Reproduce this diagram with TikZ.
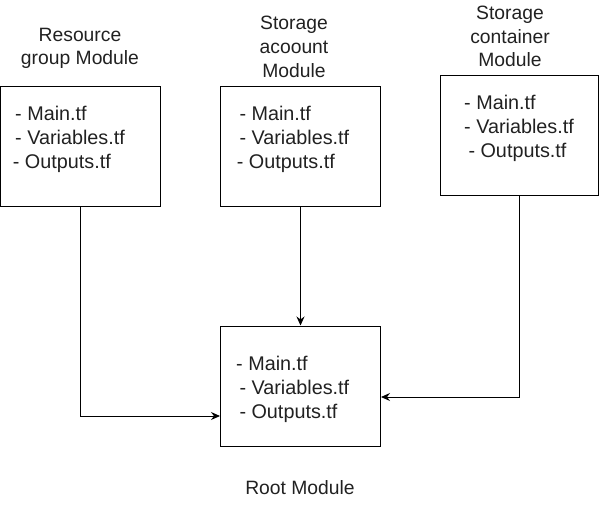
\documentclass[tikz,border=0pt]{standalone}
\usepackage{fontspec}
\setmainfont{Liberation Sans}
\usetikzlibrary{arrows.meta,calc}
\begin{document}
\begin{tikzpicture}[x=1pt,y=-1pt,
  box/.style={draw,line width=1pt,rectangle,inner sep=0pt,minimum width=160pt,minimum height=119pt},
  txt/.style={inner sep=0pt,anchor=base west,text=black!87,font=\fontsize{19.8}{23}\selectfont},
  lbl/.style={inner sep=0pt,anchor=base,text=black!87,font=\fontsize{19.3}{23}\selectfont},
  conn/.style={draw,line width=1pt,-{Stealth[length=9pt,width=8pt,inset=3pt]}}]
\useasboundingbox (0,0) rectangle (601,516);
% boxes
\node[box] (b1) at (80.5,146.5) {};
\node[box] (b2) at (300.5,146.5) {};
\node[box,minimum width=157.5pt,minimum height=119.5pt] (b3) at (519.25,135.75) {};
\node[box,minimum height=120pt] (root) at (300.5,386) {};
% box texts
\node[txt] (b1a) at (15,120) {- Main.tf};
\node[txt] (b1b) at (15,144) {- Variables.tf};
\node[txt] (b1c) at (12.7,168) {- Outputs.tf};
\node[txt] (b2a) at (239.3,121) {- Main.tf};
\node[txt] (b2b) at (239.3,144) {- Variables.tf};
\node[txt] (b2c) at (236.7,168) {- Outputs.tf};
\node[txt] (b3a) at (464,109) {- Main.tf};
\node[txt] (b3b) at (464,133) {- Variables.tf};
\node[txt] (b3c) at (468.3,157) {- Outputs.tf};
\node[txt] (ra) at (236,370) {- Main.tf};
\node[txt] (rb) at (239.3,394) {- Variables.tf};
\node[txt] (rc) at (239.3,418) {- Outputs.tf};
% labels
\node[lbl] (l1a) at (80,42) {Resource};
\node[lbl] (l1b) at (80,65) {group Module};
\node[lbl] (l2a) at (294,29.5) {Storage};
\node[lbl] (l2b) at (294,53.5) {acoount};
\node[lbl] (l2c) at (294,77.5) {Module};
\node[lbl] (l3a) at (510,19.5) {Storage};
\node[lbl] (l3b) at (510,43.5) {container};
\node[lbl] (l3c) at (510,67) {Module};
\node[lbl] (lr) at (300,494) {Root Module};
% connectors
\draw[conn] (b1.south) |- ($(root.west)+(0,30)$);
\draw[conn] (b2.south) -- (root.north);
\draw[conn] (b3.south) |- ($(root.east)+(0,11)$);
\end{tikzpicture}
\end{document}
